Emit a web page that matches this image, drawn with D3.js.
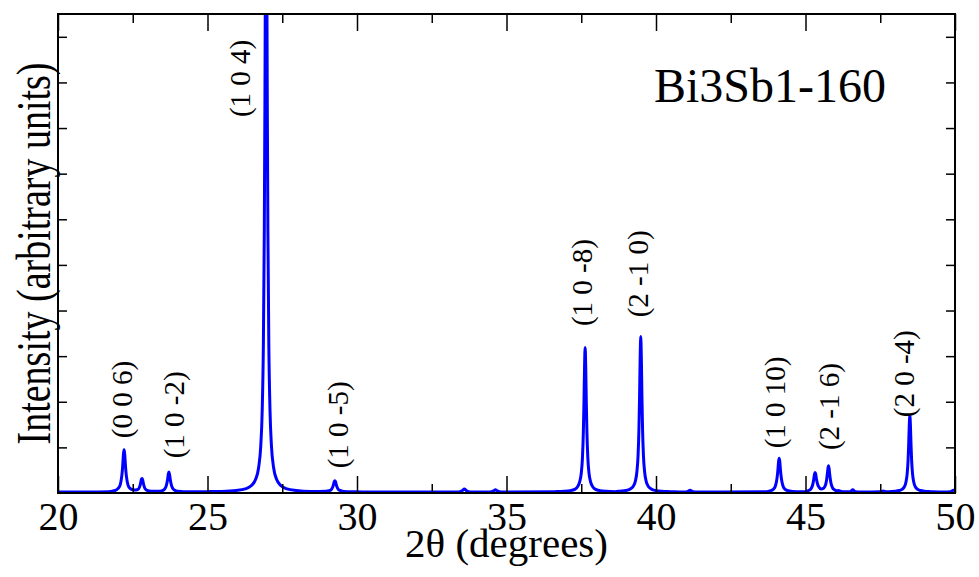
<!DOCTYPE html>
<html lang="en">
<head>
    <meta charset="UTF-8">
    <title>Bi3Sb1-160 XRD</title>
    <script src="https://cdn.jsdelivr.net/npm/d3@7/dist/d3.min.js"></script>
    <style>
        body {
            margin: 0;
            background: #fff;
        }

        svg {
            display: block;
            font-family: "Liberation Serif", "Times New Roman", serif;
        }

        .frame {
            fill: none;
            stroke: #000;
            stroke-width: 2px;
        }

        .tick line {
            stroke: #000;
            stroke-width: 1.5px;
        }

        .domain {
            display: none;
        }

        .tick text {
            font-family: "Liberation Serif", "Times New Roman", serif;
            font-size: 40px;
            fill: #000;
        }

        .pattern {
            fill: none;
            stroke: #0000ff;
            stroke-width: 3px;
            stroke-linejoin: round;
        }

        .peak-label {
            font-family: "Liberation Serif", "Times New Roman", serif;
            font-size: 29px;
            fill: #000;
        }

        .title-text {
            font-family: "Liberation Serif", "Times New Roman", serif;
            fill: #000;
        }
    </style>
</head>
<body>
<svg width="979" height="577"></svg>
<script>

    // diffraction pattern, [2theta, intensity]
    var pattern = [
        [20.0, 0.02], [21.0, 0.02], [21.7, 0.03],
        // (0 0 6)
        [21.91, 0.055], [22.01, 0.10], [22.08, 0.18], [22.12, 0.31], [22.15, 0.48], [22.17, 0.66], [22.19, 0.86],
        [22.21, 0.95], [22.23, 0.86], [22.25, 0.66], [22.27, 0.48], [22.30, 0.31], [22.34, 0.18], [22.41, 0.10],
        [22.51, 0.07], [22.61, 0.065],
        [22.68, 0.08], [22.72, 0.12], [22.75, 0.18], [22.77, 0.24], [22.79, 0.30], [22.81, 0.32], [22.83, 0.29],
        [22.85, 0.23], [22.87, 0.17], [22.90, 0.11], [22.94, 0.075], [23.01, 0.05], [23.11, 0.04],
        // (1 0 -2)
        [23.41, 0.04], [23.51, 0.057], [23.58, 0.10], [23.62, 0.155], [23.65, 0.24], [23.67, 0.32], [23.69, 0.42],
        [23.71, 0.46], [23.73, 0.41], [23.75, 0.32], [23.77, 0.24], [23.80, 0.155], [23.84, 0.10], [23.91, 0.057],
        [24.01, 0.037], [24.21, 0.026],
        // (1 0 4)
        [24.96, 0.03], [25.46, 0.035], [25.96, 0.055], [26.26, 0.09], [26.46, 0.16], [26.61, 0.30], [26.71, 0.56],
        [26.78, 1.02], [26.83, 1.82], [26.87, 3.32], [26.90, 5.76], [26.92, 8.5], [26.94, 12.07], [26.96, 14.02],
        [26.98, 12.07], [27.00, 8.5], [27.02, 5.76], [27.05, 3.32], [27.09, 1.82], [27.14, 1.02], [27.21, 0.56],
        [27.31, 0.30], [27.46, 0.16], [27.66, 0.09], [27.96, 0.055], [28.46, 0.035],
        // (1 0 -5)
        [28.96, 0.04], [29.06, 0.05], [29.13, 0.07], [29.17, 0.105], [29.20, 0.155], [29.22, 0.20], [29.24, 0.25],
        [29.26, 0.27], [29.28, 0.25], [29.30, 0.20], [29.32, 0.155], [29.35, 0.105], [29.39, 0.07], [29.46, 0.05],
        [29.56, 0.035], [29.9, 0.025], [30.5, 0.02],
        [33.3, 0.02], [33.45, 0.03], [33.53, 0.055], [33.59, 0.09], [33.65, 0.055], [33.73, 0.03], [33.9, 0.02],
        [34.4, 0.02], [34.5, 0.03], [34.57, 0.045], [34.63, 0.07], [34.69, 0.045], [34.76, 0.03], [34.9, 0.02],
        // (1 0 -8)
        [36.63, 0.03], [36.93, 0.036], [37.13, 0.05], [37.28, 0.08], [37.38, 0.14], [37.45, 0.25], [37.50, 0.43],
        [37.54, 0.77], [37.57, 1.32], [37.59, 1.95], [37.61, 2.75], [37.63, 3.19], [37.65, 2.75], [37.67, 1.95],
        [37.69, 1.32], [37.72, 0.77], [37.76, 0.43], [37.81, 0.25], [37.88, 0.14], [37.98, 0.08], [38.13, 0.05],
        [38.33, 0.036], [38.63, 0.03],
        // (2 -1 0)
        [38.79, 0.04], [38.99, 0.054], [39.14, 0.09], [39.24, 0.15], [39.31, 0.26], [39.36, 0.46], [39.40, 0.82],
        [39.43, 1.42], [39.45, 2.10], [39.47, 2.96], [39.49, 3.43], [39.51, 2.96], [39.53, 2.10], [39.55, 1.42],
        [39.58, 0.82], [39.62, 0.46], [39.67, 0.26], [39.74, 0.15], [39.84, 0.09], [39.99, 0.054], [40.19, 0.037],
        [40.49, 0.03],
        [40.9, 0.02], [41.05, 0.03], [41.14, 0.06], [41.23, 0.03], [41.4, 0.02],
        // (1 0 10)
        [43.6, 0.025], [43.82, 0.048], [43.92, 0.08], [43.99, 0.15], [44.03, 0.25], [44.06, 0.39], [44.08, 0.53],
        [44.10, 0.69], [44.12, 0.76], [44.14, 0.69], [44.16, 0.53], [44.18, 0.39], [44.21, 0.25], [44.25, 0.15],
        [44.32, 0.08], [44.42, 0.048], [44.7, 0.025],
        // doublet and (2 -1 6)
        [45.0, 0.03], [45.12, 0.06], [45.19, 0.10], [45.23, 0.16], [45.26, 0.24], [45.28, 0.32], [45.30, 0.41],
        [45.32, 0.45], [45.34, 0.42], [45.36, 0.33], [45.38, 0.26], [45.41, 0.18], [45.45, 0.13], [45.52, 0.09],
        [45.60, 0.10], [45.64, 0.135], [45.68, 0.20], [45.71, 0.31], [45.73, 0.42], [45.75, 0.53], [45.77, 0.60],
        [45.79, 0.53], [45.81, 0.41], [45.83, 0.30], [45.86, 0.195], [45.90, 0.12], [45.97, 0.07], [46.05, 0.05],
        [46.1, 0.055], [46.17, 0.04], [46.3, 0.025],
        [46.5, 0.03], [46.58, 0.07], [46.66, 0.03], [46.9, 0.02],
        [47.5, 0.025], [47.6, 0.045], [47.7, 0.025],
        // (2 0 -4)
        [47.79, 0.03], [47.99, 0.037], [48.14, 0.054], [48.24, 0.085], [48.31, 0.14], [48.36, 0.24], [48.40, 0.42],
        [48.43, 0.71], [48.45, 1.04], [48.47, 1.47], [48.49, 1.70], [48.51, 1.47], [48.53, 1.04], [48.55, 0.71],
        [48.58, 0.42], [48.62, 0.24], [48.67, 0.14], [48.74, 0.085], [48.84, 0.054], [48.99, 0.037], [49.19, 0.03],
        [49.6, 0.02], [49.85, 0.03], [49.95, 0.06], [50.0, 0.05]
    ];

    // Miller index labels, anchored at their lower end (2theta, intensity)
    var peakLabels = [
        { text: '(0 0 6)', x: 22.19, y: 1.20 },
        { text: '(1 0 -2)', x: 23.91, y: 0.76 },
        { text: '(1 0 4)', x: 26.14, y: 8.24 },
        { text: '(1 0 -5)', x: 29.41, y: 0.54 },
        { text: '(1 0 -8)', x: 37.58, y: 3.66 },
        { text: '(2 -1 0)', x: 39.45, y: 3.85 },
        { text: '(1 0 10)', x: 44.03, y: 0.98 },
        { text: '(2 -1 6)', x: 45.84, y: 0.94 },
        { text: '(2 0 -4)', x: 48.33, y: 1.66 }
    ];

    var xMajorTicks = [20, 25, 30, 35, 40, 45, 50];
    var xMinorTicks = [22.5, 27.5, 32.5, 37.5, 42.5, 47.5];
    var yTicks = [1, 2, 3, 4, 5, 6, 7, 8, 9, 10];
    var sampleName = 'Bi3Sb1-160';

    var svg = d3.select('svg');

    var plotLeft = 58, plotRight = 955, plotTop = 14, plotBottom = 493;
    var plotWidth = plotRight - plotLeft;
    var plotHeight = plotBottom - plotTop;

    var x = d3.scaleLinear()
        .domain([20, 50])
        .range([plotLeft, plotRight]);

    var y = d3.scaleLinear()
        .domain([0, 10.5])
        .range([plotBottom, plotTop]);

    svg.append('defs').append('clipPath')
        .attr('id', 'plot-clip')
        .append('rect')
        .attr('x', plotLeft)
        .attr('y', plotTop)
        .attr('width', plotWidth)
        .attr('height', plotHeight);

    // pattern
    var line = d3.line()
        .x(function (d) { return x(d[0]); })
        .y(function (d) { return y(d[1]); })
        .curve(d3.curveMonotoneX);

    svg.append('path')
        .datum(pattern)
        .attr('class', 'pattern')
        .attr('clip-path', 'url(#plot-clip)')
        .attr('d', line);

    // axes, ticks pointing inward
    svg.append('g')
        .attr('transform', 'translate(0,' + plotBottom + ')')
        .call(d3.axisBottom(x).tickValues(xMajorTicks).tickSize(-17).tickPadding(9).tickFormat(d3.format('d')));

    svg.append('g')
        .attr('transform', 'translate(0,' + plotBottom + ')')
        .call(d3.axisBottom(x).tickValues(xMinorTicks).tickSize(-9).tickFormat(''));

    svg.append('g')
        .attr('transform', 'translate(0,' + plotTop + ')')
        .call(d3.axisTop(x).tickValues(xMajorTicks).tickSize(-17).tickFormat(''));

    svg.append('g')
        .attr('transform', 'translate(0,' + plotTop + ')')
        .call(d3.axisTop(x).tickValues(xMinorTicks).tickSize(-9).tickFormat(''));

    svg.append('g')
        .attr('transform', 'translate(' + plotLeft + ',0)')
        .call(d3.axisLeft(y).tickValues(yTicks).tickSize(-9).tickFormat(''));

    svg.append('g')
        .attr('transform', 'translate(' + plotRight + ',0)')
        .call(d3.axisRight(y).tickValues(yTicks).tickSize(-9).tickFormat(''));

    svg.append('rect')
        .attr('class', 'frame')
        .attr('x', plotLeft)
        .attr('y', plotTop)
        .attr('width', plotWidth)
        .attr('height', plotHeight);

    // peak labels
    svg.selectAll('.peak-label')
        .data(peakLabels)
        .enter()
        .append('text')
        .attr('class', 'peak-label')
        .attr('transform', function (d) {
            return 'translate(' + x(d.x) + ',' + y(d.y) + ') rotate(-90)';
        })
        .attr('dy', '0.3em')
        .text(function (d) { return d.text; });

    // sample name
    svg.append('text')
        .attr('class', 'title-text')
        .attr('x', 654)
        .attr('y', 102)
        .style('font-size', '48px')
        .text(sampleName);

    // axis titles
    svg.append('text')
        .attr('class', 'title-text')
        .attr('x', (plotLeft + plotRight) / 2)
        .attr('y', 557)
        .attr('text-anchor', 'middle')
        .style('font-size', '41px')
        .text('2\u03b8 (degrees)');

    svg.append('text')
        .attr('class', 'title-text')
        .attr('transform', 'translate(50,' + ((plotTop + plotBottom) / 2) + ') rotate(-90) scale(1,1.3)')
        .attr('text-anchor', 'middle')
        .style('font-size', '38px')
        .text('Intensity (arbitrary units)');

</script>
</body>
</html>
